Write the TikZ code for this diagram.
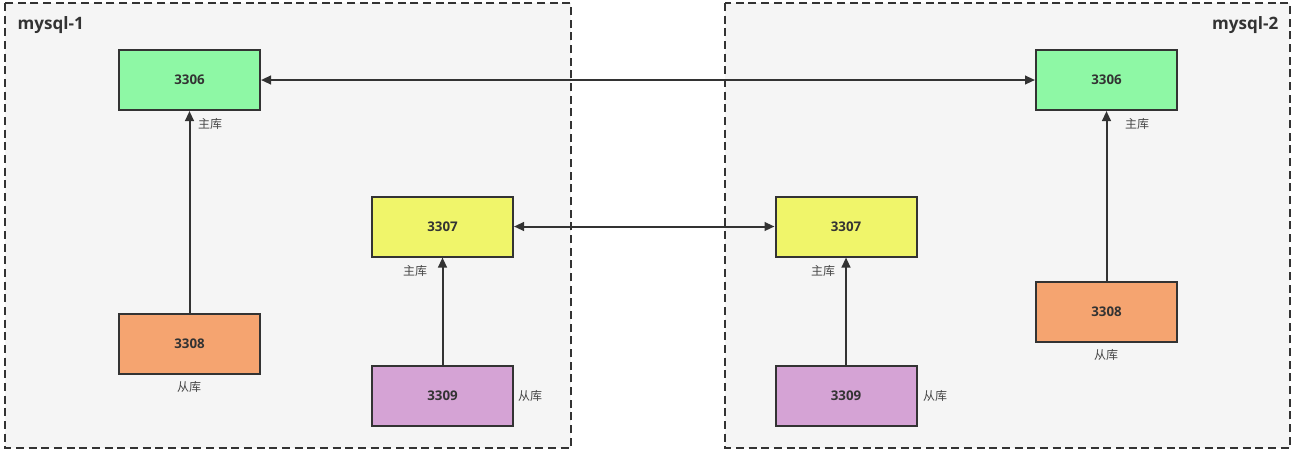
\documentclass[tikz,border=0pt]{standalone}
\usepackage{fontspec}
\setmainfont{Open Sans}
\newfontfamily\cjk{Noto Sans CJK SC}
\usetikzlibrary{arrows.meta,positioning}

\definecolor{linegray}{HTML}{333333}
\definecolor{groupfill}{HTML}{F5F5F5}
\definecolor{mastergreen}{HTML}{8EF8A5}
\definecolor{masteryellow}{HTML}{F0F56A}
\definecolor{slaveorange}{HTML}{F5A470}
\definecolor{slavepurple}{HTML}{D5A3D5}

\tikzset{
  group/.style={draw=linegray, fill=groupfill, line width=1.5pt, dash pattern=on 6pt off 3.5pt},
  title/.style={font=\fontsize{12.8}{15}\selectfont\bfseries, text=linegray},
  db/.style={draw=linegray, line width=1.5pt, minimum width=105.75pt, minimum height=45pt,
    inner sep=0pt, font=\fontsize{10}{12}\selectfont\bfseries, text=linegray},
  role/.style={font=\cjk\fontsize{9}{11}\selectfont, text=linegray!90, inner sep=1pt},
  link/.style={draw=linegray, line width=1.5pt, -{Triangle[length=7.5pt,width=6.5pt]}},
  biglink/.style={link, {Triangle[length=7.5pt,width=6.5pt]}-{Triangle[length=7.5pt,width=6.5pt]}}
}

\begin{document}
\begin{tikzpicture}[x=0.75pt,y=-0.75pt]
  \useasboundingbox[fill=white] (0,0) rectangle (1299,455);

  % zwei Gruppen
  \draw[group] (5,3) rectangle (571,448);
  \draw[group] (725,3) rectangle (1290,448);
  \node[title, anchor=west] (t1) at (13,25) {mysql-1};
  \node[title, anchor=east] (t2) at (1283,25) {mysql-2};

  % mysql-1
  \node[db, fill=mastergreen]   (a6) at (189.5,80)    {3306};
  \node[db, fill=slaveorange]   (a8) at (189.5,344)   {3308};
  \node[db, fill=masteryellow]  (a7) at (442.5,226.5) {3307};
  \node[db, fill=slavepurple]   (a9) at (442.5,395.5) {3309};

  % mysql-2
  \node[db, fill=mastergreen]   (b6) at (1106.5,80)   {3306};
  \node[db, fill=slaveorange]   (b8) at (1106.5,311.5){3308};
  \node[db, fill=masteryellow]  (b7) at (846,226.5)   {3307};
  \node[db, fill=slavepurple]   (b9) at (846,395.5)   {3309};

  % Rollen
  \node[role] (ra6) at (210,124)  {主库};
  \node[role] (ra8) at (189,387)  {从库};
  \node[role] (ra7) at (415,271)  {主库};
  \node[role] (ra9) at (530,396)  {从库};
  \node[role] (rb6) at (1137,124) {主库};
  \node[role] (rb8) at (1106,355) {从库};
  \node[role] (rb7) at (823,271)  {主库};
  \node[role] (rb9) at (935,396)  {从库};

  % Replikation
  \draw[link] (a8) -- (a6);
  \draw[link] (a9) -- (a7);
  \draw[link] (b8) -- (b6);
  \draw[link] (b9) -- (b7);
  \draw[biglink] (a6) -- (b6);
  \draw[biglink] (a7) -- (b7);
\end{tikzpicture}
\end{document}
